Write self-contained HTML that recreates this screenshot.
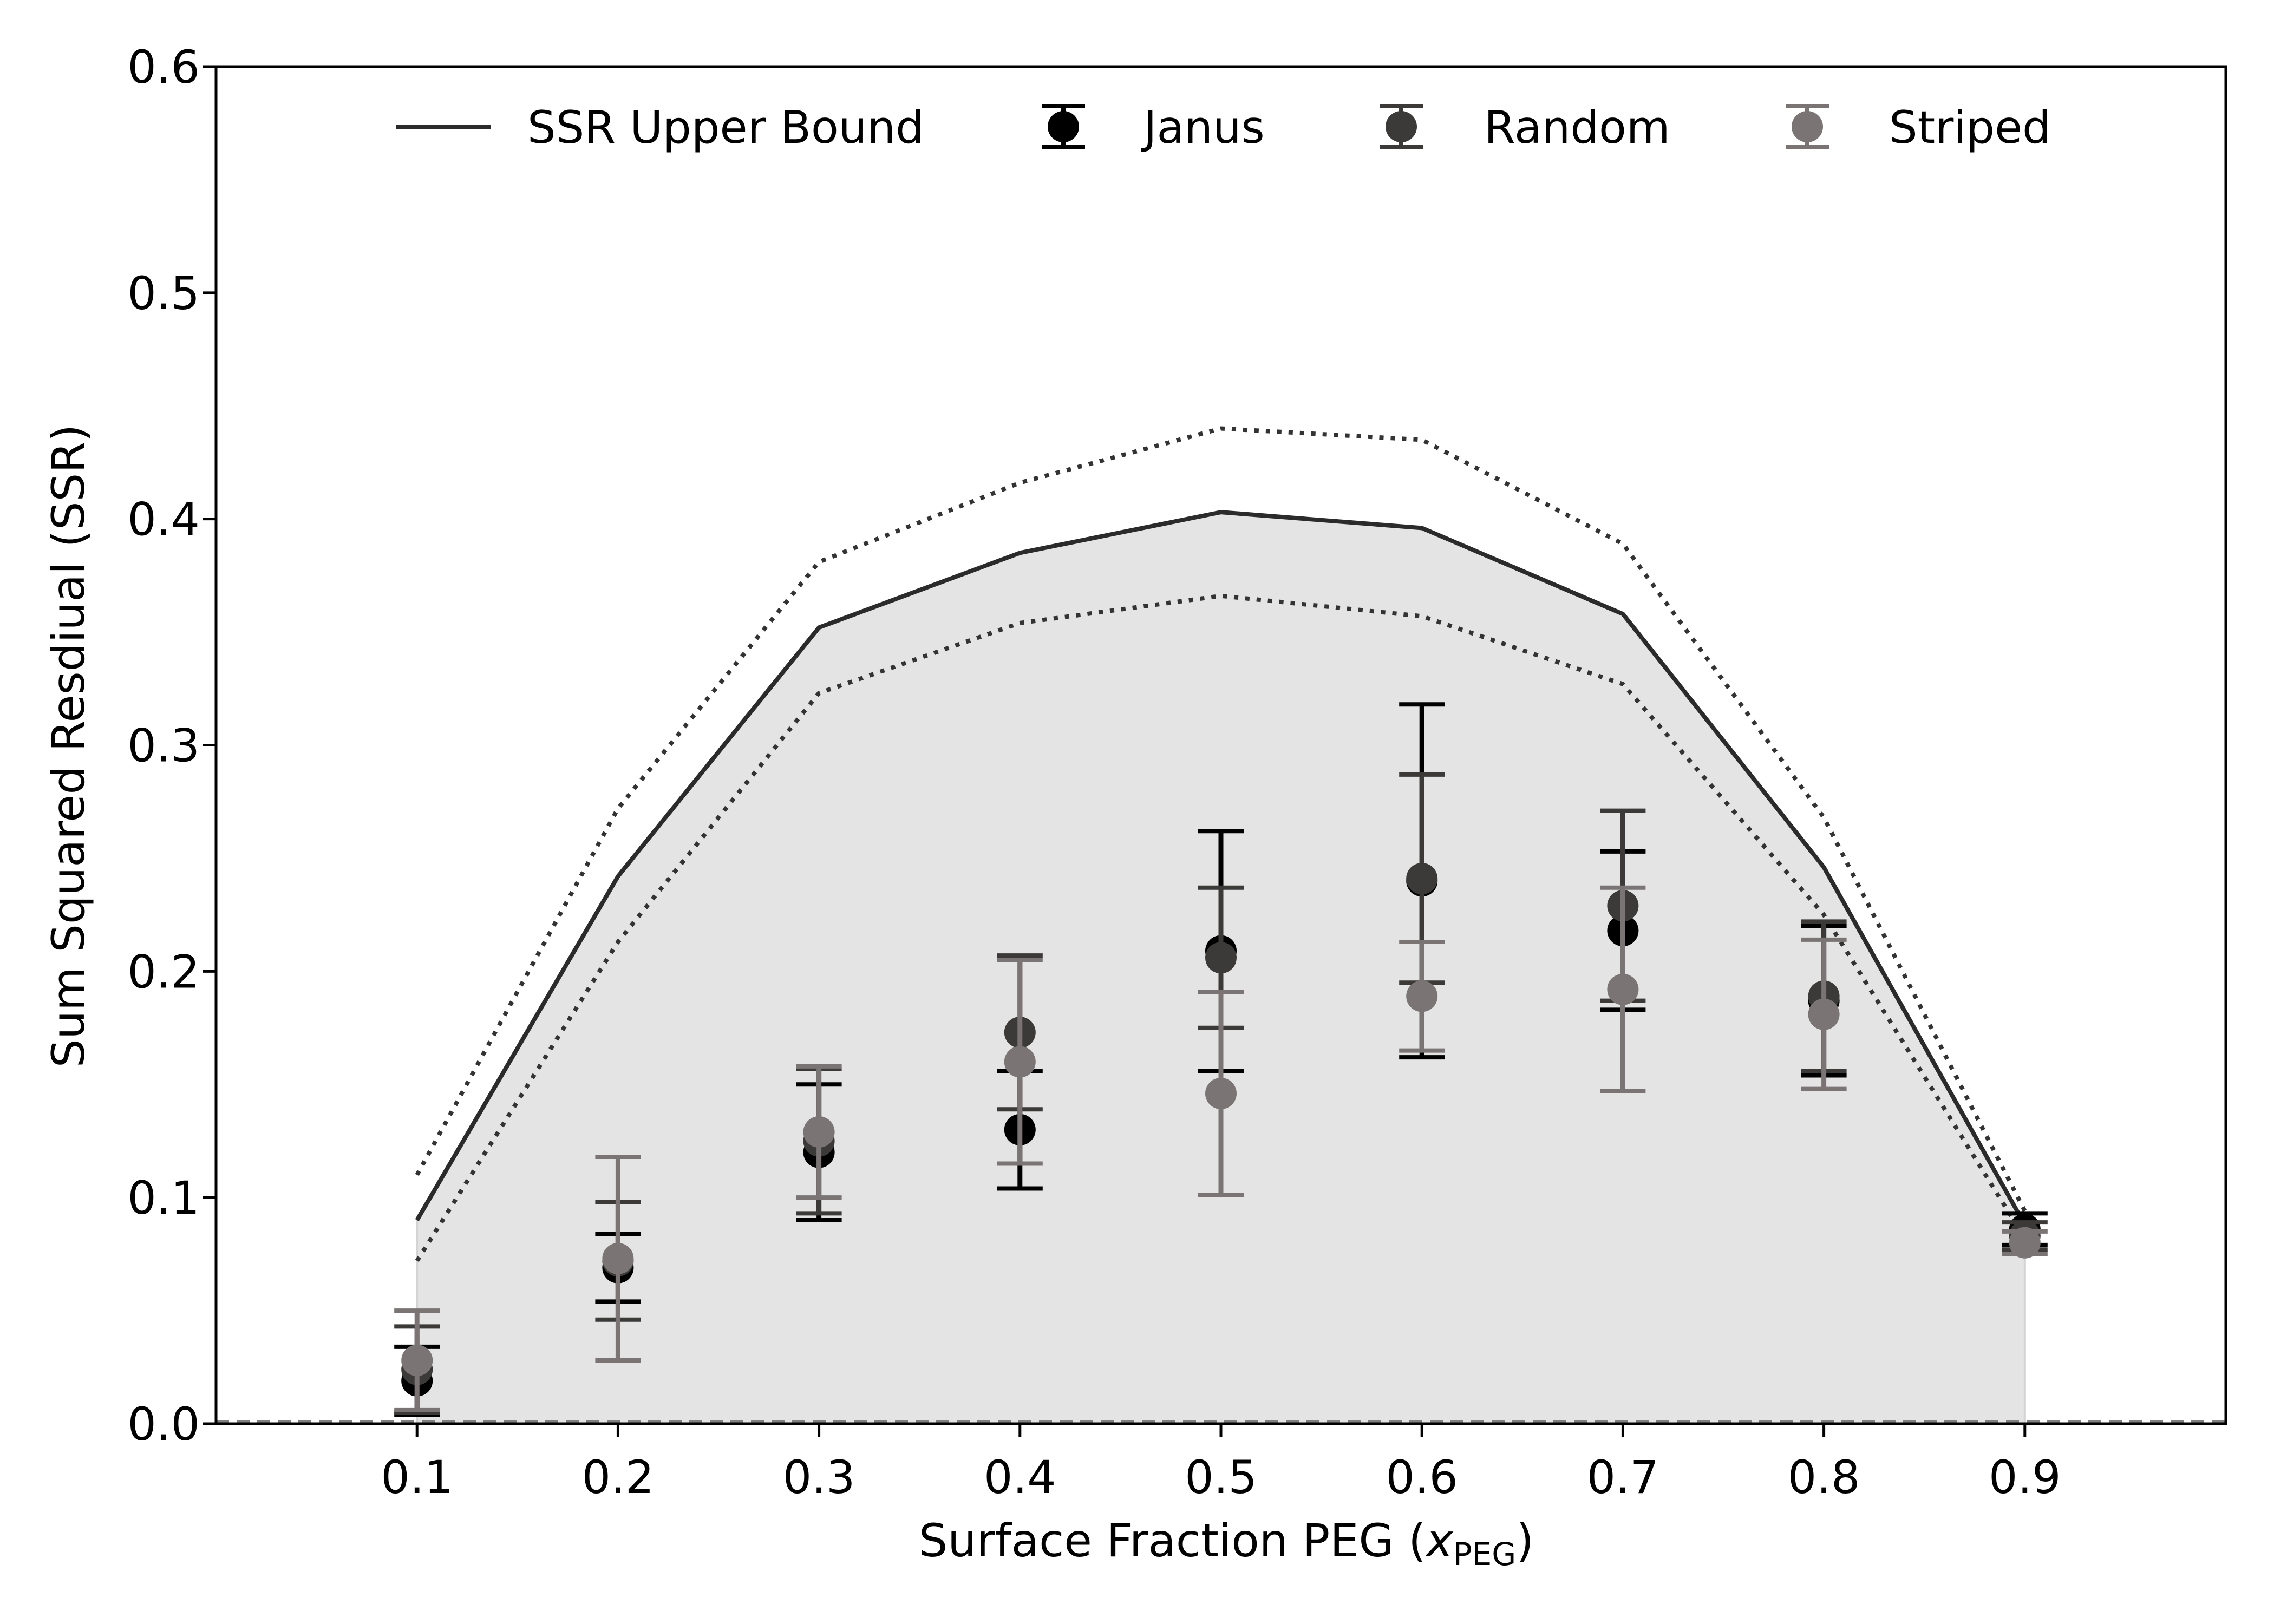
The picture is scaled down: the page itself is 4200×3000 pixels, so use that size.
<!DOCTYPE html>
<html><head><meta charset="utf-8"><style>
html,body{margin:0;padding:0;background:#fff;}
svg{display:block;font-family:"DejaVu Sans","Liberation Sans",sans-serif;}
</style></head><body>
<svg id="chart" width="4200" height="3000" viewBox="0 0 4200 3000" xmlns="http://www.w3.org/2000/svg">
<g id="plot"></g>
</svg>
<script>
const xs = [0.1,0.2,0.3,0.4,0.5,0.6,0.7,0.8,0.9];
const upperBound = [0.090,0.242,0.352,0.385,0.403,0.396,0.358,0.246,0.088];
const upperDotted = [0.110,0.272,0.381,0.416,0.440,0.435,0.389,0.268,0.094];
const lowerDotted = [0.072,0.213,0.323,0.354,0.366,0.357,0.327,0.225,0.082];
const janusMean = [0.019,0.069,0.120,0.130,0.209,0.240,0.218,0.187,0.086];
const janusErr  = [0.015,0.015,0.030,0.026,0.053,0.078,0.035,0.033,0.007];
const randomMean = [0.024,0.072,0.125,0.173,0.206,0.241,0.229,0.189,0.083];
const randomErr  = [0.019,0.026,0.032,0.034,0.031,0.046,0.042,0.033,0.006];
const stripedMean = [0.028,0.073,0.129,0.160,0.146,0.189,0.192,0.181,0.080];
const stripedErr  = [0.022,0.045,0.029,0.045,0.045,0.024,0.045,0.033,0.005];
const xTicks = [0.1,0.2,0.3,0.4,0.5,0.6,0.7,0.8,0.9];
const xTickLabels = ["0.1","0.2","0.3","0.4","0.5","0.6","0.7","0.8","0.9"];
const yTicks = [0,0.1,0.2,0.3,0.4,0.5,0.6];
const yTickLabels = ["0.0","0.1","0.2","0.3","0.4","0.5","0.6"];

const L=399,R=4111,T=123,B=2630;
const X = v => L + v*(R-L);
const Y = v => B - v/0.6*(B-T);
const NS="http://www.w3.org/2000/svg";
const svg=document.getElementById('chart');
const g=document.getElementById('plot');
function mk(tag,attrs,parent){const e=document.createElementNS(NS,tag);for(const k in attrs)e.setAttribute(k,attrs[k]);(parent||g).appendChild(e);return e;}

let d='M'+X(xs[0])+','+Y(0);
xs.forEach((x,i)=>{d+=' L'+X(x)+','+Y(upperBound[i]);});
d+=' L'+X(xs[xs.length-1])+','+Y(0)+' Z';
let f=mk('path',{d:d,fill:'#e4e4e4',stroke:'#d4d4d4','stroke-width':4});



let zl=mk('line',{x1:L,x2:R,y1:Y(0)-4,y2:Y(0)-4,stroke:'#808080','stroke-width':5,'stroke-dasharray':'24 14'});



function poly(arr,attrs,name){
  const p=xs.map((x,i)=>X(x)+','+Y(arr[i])).join(' ');
  const e=mk('polyline',Object.assign({points:p,fill:'none'},attrs));
  
  
}
poly(upperDotted,{stroke:'#333','stroke-width':8,'stroke-dasharray':'8 13'},'upper-dotted-line');
poly(lowerDotted,{stroke:'#333','stroke-width':8,'stroke-dasharray':'8 13'},'lower-dotted-line');
poly(upperBound,{stroke:'#2b2b2b','stroke-width':8,'stroke-linejoin':'round'},'ssr-upper-bound-line');

function series(mean,err,color,name){
  const sg=mk('g',{});
  
  
  xs.forEach((x,i)=>{
    const cx=X(x),y1=Y(mean[i]+err[i]),y2=Y(mean[i]-err[i]);
    const v=mk('line',{x1:cx,x2:cx,y1:y1,y2:y2,stroke:color,'stroke-width':9},sg);
    
    
    [y1,y2].forEach(yy=>{
      const c=mk('line',{x1:cx-42,x2:cx+42,y1:yy,y2:yy,stroke:color,'stroke-width':8},sg);
      
      
    });
  });
  xs.forEach((x,i)=>{
    const c=mk('circle',{cx:X(x),cy:Y(mean[i]),r:29,fill:color},sg);
    
    
  });
}
series(janusMean,janusErr,'#000000','janus');
series(randomMean,randomErr,'#3b3a38','random');
series(stripedMean,stripedErr,'#7a7574','striped');

let fr=mk('rect',{x:L,y:T,width:R-L,height:B-T,fill:'none',stroke:'#000','stroke-width':5});



xTicks.forEach((v,i)=>{
  const t=mk('line',{x1:X(v),x2:X(v),y1:B,y2:B+24,stroke:'#000','stroke-width':5});
  
  
  const tx=mk('text',{x:X(v),y:B+128,'text-anchor':'middle','font-size':84,fill:'#000'});
  tx.textContent=xTickLabels[i];
  
  
});
yTicks.forEach((v,i)=>{
  const t=mk('line',{x1:L-24,x2:L,y1:Y(v),y2:Y(v),stroke:'#000','stroke-width':5});
  
  
  const tx=mk('text',{x:L-30,y:Y(v)+30,'text-anchor':'end','font-size':84,fill:'#000'});
  tx.textContent=yTickLabels[i];
  
  
});
</script>
<svg style="position:absolute;left:0;top:0" width="4200" height="3000" viewBox="0 0 4200 3000" xmlns="http://www.w3.org/2000/svg">
<text x="2265" y="2875" text-anchor="middle" font-size="84" font-family="DejaVu Sans, Liberation Sans, sans-serif">Surface Fraction PEG (<tspan font-style="italic">x</tspan><tspan font-size="58" dy="16">PEG</tspan><tspan dy="-16">)</tspan></text>
<text transform="translate(155,1378) rotate(-90)" text-anchor="middle" font-size="83" font-family="DejaVu Sans, Liberation Sans, sans-serif">Sum Squared Resdiual (SSR)</text>
<g font-family="DejaVu Sans, Liberation Sans, sans-serif" font-size="83">
  <g>
    <line x1="732" x2="906" y1="234" y2="234" stroke="#2b2b2b" stroke-width="8"/>
    <text x="974" y="264">SSR Upper Bound</text>
  </g>
  <g>
    <line x1="1964" x2="1964" y1="196" y2="272" stroke="#000" stroke-width="8"/>
    <line x1="1924" x2="2004" y1="196" y2="196" stroke="#000" stroke-width="8"/>
    <line x1="1924" x2="2004" y1="272" y2="272" stroke="#000" stroke-width="8"/>
    <circle cx="1964" cy="234" r="29" fill="#000"/>
    <text x="2112" y="264">Janus</text>
  </g>
  <g>
    <line x1="2588" x2="2588" y1="196" y2="272" stroke="#3b3a38" stroke-width="8"/>
    <line x1="2548" x2="2628" y1="196" y2="196" stroke="#3b3a38" stroke-width="8"/>
    <line x1="2548" x2="2628" y1="272" y2="272" stroke="#3b3a38" stroke-width="8"/>
    <circle cx="2588" cy="234" r="29" fill="#3b3a38"/>
    <text x="2741" y="264">Random</text>
  </g>
  <g>
    <line x1="3338" x2="3338" y1="196" y2="272" stroke="#7a7574" stroke-width="8"/>
    <line x1="3298" x2="3378" y1="196" y2="196" stroke="#7a7574" stroke-width="8"/>
    <line x1="3298" x2="3378" y1="272" y2="272" stroke="#7a7574" stroke-width="8"/>
    <circle cx="3338" cy="234" r="29" fill="#7a7574"/>
    <text x="3489" y="264">Striped</text>
  </g>
</g>
</svg>
</body></html>
